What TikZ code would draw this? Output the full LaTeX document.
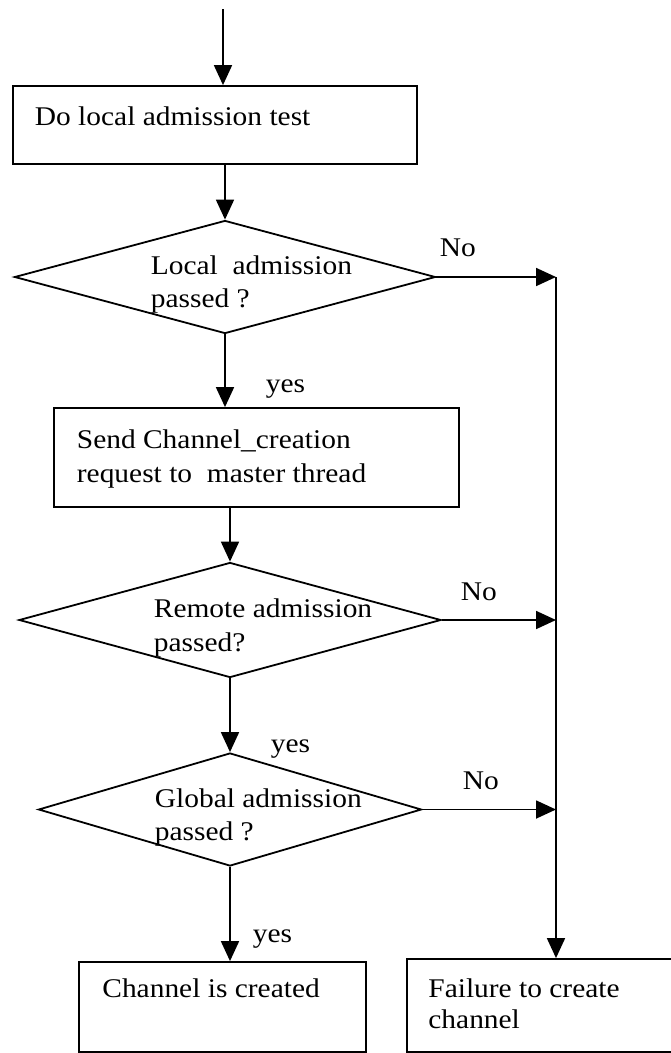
\documentclass[tikz,border=0pt]{standalone}
\usepackage{fontspec}
\setmainfont{Liberation Serif}[FakeStretch=1.09]
\usetikzlibrary{arrows.meta,shapes.geometric}
\begin{document}
\begin{tikzpicture}[x=1pt,y=-1pt,
  line width=1.8pt,
  flow/.style={-{Triangle[length=20pt,width=18pt]}},
  stepbox/.style={draw, rectangle, inner sep=0pt},
  test/.style={draw, diamond, inner sep=0pt},
  txt/.style={inner sep=0pt, anchor=base west, font=\fontsize{27}{33}\selectfont}]
\useasboundingbox (0,0) rectangle (671,1053);
\clip (0,0) rectangle (671,1053);

% process boxes
\node[stepbox, minimum width=404pt, minimum height=78pt] (b1) at (215,125) {};
\node[stepbox, minimum width=405pt, minimum height=99pt] (b2) at (256.5,457.5) {};
\node[stepbox, minimum width=287pt, minimum height=90pt] (b3) at (222.5,1007) {};
\node[stepbox, minimum width=283pt, minimum height=93pt] (b4) at (548.5,1005.5) {};

% decisions
\node[test, minimum width=421pt, minimum height=113pt] (d1) at (225,277) {};
\node[test, minimum width=422pt, minimum height=115pt] (d2) at (230,620) {};
\node[test, minimum width=383pt, minimum height=113pt] (d3) at (230,809.5) {};

% texts
\node[txt] (t1) at (34,125) {Do local admission test};
\node[txt] (t2a) at (150,274) {Local\ \ admission};
\node[txt] (t2b) at (150,307) {passed ?};
\node[txt] (t3a) at (76,448) {Send Channel\_creation};
\node[txt] (t3b) at (76,482) {request to\ \ master thread};
\node[txt] (t4a) at (153,617) {Remote admission};
\node[txt] (t4b) at (153,651) {passed?};
\node[txt] (t5a) at (154,807) {Global admission};
\node[txt] (t5b) at (154,840) {passed ?};
\node[txt] (t6) at (101.5,997) {Channel is created};
\node[txt] (t7a) at (427.5,997) {Failure to create};
\node[txt] (t7b) at (427.5,1028) {channel};

% branch labels
\node[txt] (no1) at (439,256.5) {No};
\node[txt] (no2) at (460,600) {No};
\node[txt] (no3) at (462,789) {No};
\node[txt] (yes1) at (265,392) {yes};
\node[txt] (yes2) at (270,752) {yes};
\node[txt] (yes3) at (252,942) {yes};

% main flow
\coordinate (start) at (223,9);
\coordinate (railx) at (556,0);
\draw[flow] (start) -- (start |- b1.north);
\draw[flow] (b1.south -| d1.north) -- (d1.north);
\draw[flow] (d1.south) -- (b2.north -| d1.south);
\draw[flow] (b2.south -| d2.north) -- (d2.north);
\draw[flow] (d2.south) -- (d3.north);
\draw[flow] (d3.south) -- (b3.north -| d3.south);

% failure branches
\draw[flow] (d1.east) -- (d1.east -| railx);
\draw[flow] (d2.east) -- (d2.east -| railx);
\draw[flow] (d3.east) -- (d3.east -| railx);
\draw[flow] (d1.east -| railx) -- (b4.north -| railx);
\end{tikzpicture}
\end{document}
